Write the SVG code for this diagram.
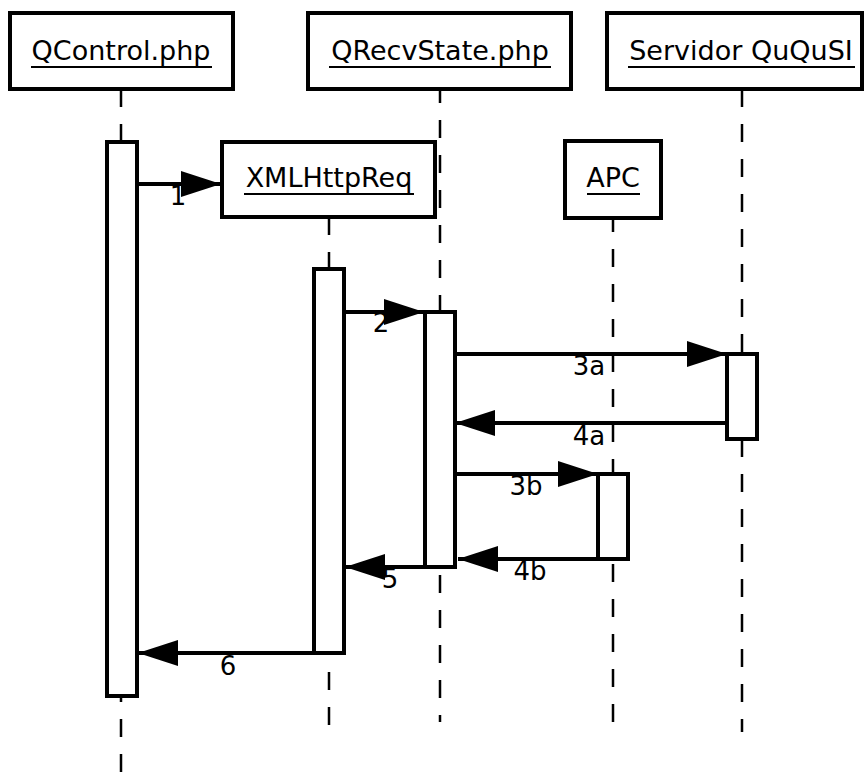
<svg xmlns="http://www.w3.org/2000/svg" width="866" height="779" viewBox="0 0 866 779">
<defs>
<style>
.box{fill:#fff;stroke:#000;stroke-width:4}
.act{fill:#fff;stroke:#000;stroke-width:4}
.life{stroke:#000;stroke-width:2.5;stroke-dasharray:18 17;fill:none}
.msg{stroke:#000;stroke-width:4;fill:none;marker-end:url(#ah)}
.ht{font-family:"DejaVu Sans",sans-serif;font-size:27px;text-anchor:middle;fill:#000}
.ul{stroke:#000;stroke-width:2}
.lbl{font-family:"DejaVu Sans",sans-serif;font-size:26px;text-anchor:middle;fill:#000}
</style>
<marker id="ah" markerUnits="userSpaceOnUse" markerWidth="42" markerHeight="28" refX="40" refY="13" orient="auto">
<path d="M0,0 L40,13 L0,26 z" fill="#000"/>
</marker>
</defs>
<g id="lifelines">
<line class="life" x1="121" y1="89" x2="121" y2="779"/>
<line class="life" x1="440" y1="89" x2="440" y2="722" stroke-dashoffset="4"/>
<line class="life" x1="742" y1="89" x2="742" y2="732"/>
<line class="life" x1="329" y1="217" x2="329" y2="740"/>
<line class="life" x1="613" y1="218" x2="613" y2="738" stroke-dashoffset="4"/>
</g>
<g id="QControl">
<rect class="box" x="10" y="13" width="223" height="76"/>
<text class="ht" x="121" y="60">QControl.php</text>
<line class="ul" x1="31" y1="67" x2="212" y2="67"/>
</g>
<g id="QRecvState">
<rect class="box" x="308" y="13" width="263" height="76"/>
<text class="ht" x="440" y="60">QRecvState.php</text>
<line class="ul" x1="329" y1="67" x2="551" y2="67"/>
</g>
<g id="Servidor">
<rect class="box" x="607" y="13" width="255" height="76"/>
<text class="ht" x="741" y="60">Servidor QuQuSI</text>
<line class="ul" x1="628" y1="67" x2="855" y2="67"/>
</g>
<g id="XMLHttpReq">
<rect class="box" x="222" y="142" width="213" height="75"/>
<text class="ht" x="329" y="187">XMLHttpReq</text>
<line class="ul" x1="244" y1="194" x2="414" y2="194"/>
</g>
<g id="APC">
<rect class="box" x="565" y="141" width="96" height="77"/>
<text class="ht" x="613" y="187">APC</text>
<line class="ul" x1="587" y1="194" x2="640" y2="194"/>
</g>
<g id="activations">
<rect class="act" x="107" y="142" width="30" height="554"/>
<rect class="act" x="314" y="269" width="30" height="384"/>
<rect class="act" x="425" y="312" width="30" height="255"/>
<rect class="act" x="727" y="354" width="30" height="85"/>
<rect class="act" x="598" y="474" width="30" height="85"/>
</g>
<g id="connectors">
<line class="msg" x1="137" y1="184" x2="221" y2="184"/>
<line class="msg" x1="344" y1="312" x2="424" y2="312"/>
<line class="msg" x1="455" y1="354" x2="727" y2="354"/>
<line class="msg" x1="727" y1="423" x2="455" y2="423"/>
<line class="msg" x1="455" y1="474" x2="598" y2="474"/>
<line class="msg" x1="598" y1="559" x2="458" y2="559"/>
<line class="msg" x1="425" y1="567" x2="345" y2="567"/>
<line class="msg" x1="314" y1="653" x2="138" y2="653"/>
<text class="lbl" x="178" y="205">1</text>
<text class="lbl" x="381" y="332">2</text>
<text class="lbl" x="589" y="375">3a</text>
<text class="lbl" x="589" y="445">4a</text>
<text class="lbl" x="526" y="495">3b</text>
<text class="lbl" x="530" y="580">4b</text>
<text class="lbl" x="390" y="588">5</text>
<text class="lbl" x="228" y="675">6</text>
</g>
</svg>
